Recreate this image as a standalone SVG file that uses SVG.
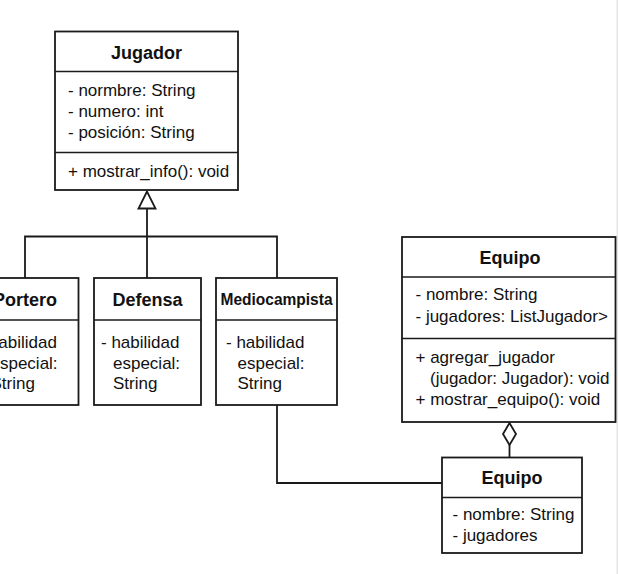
<svg xmlns="http://www.w3.org/2000/svg" width="618" height="574" viewBox="0 0 618 574">
<style>
.box{fill:#ffffff;stroke:#1a1a1a;stroke-width:1.8}
.div{stroke:#1a1a1a;stroke-width:1.6;fill:none}
.edge{stroke:#1a1a1a;stroke-width:1.8;fill:none}
.t{font-family:"Liberation Sans",Arial,Helvetica,sans-serif;font-size:17px;fill:#111}
.h{font-family:"Liberation Sans",Arial,Helvetica,sans-serif;font-size:18px;font-weight:bold;fill:#111;text-anchor:middle}
</style>
<rect x="0" y="0" width="618" height="574" fill="#ffffff"/>
<rect x="616.5" y="0" width="1.5" height="574" fill="#e4e4e4"/>
<g id="connectors">
<polyline class="edge" points="25,278 25,236.5 277,236.5 277,278"/>
<line class="edge" x1="147" y1="208" x2="147" y2="278"/>
<polygon class="edge" fill="#ffffff" points="147,191.5 138.5,208.5 155.5,208.5"/>
<polyline class="edge" points="277,405 277,483 442,483"/>
<line class="edge" x1="509.5" y1="445" x2="509.5" y2="457.5"/>
<polygon class="edge" fill="#ffffff" points="509.5,423 516,434 509.5,445 503,434"/>
</g>
<g id="jugador">
<rect class="box" x="55" y="31.5" width="183" height="158.5"/>
<line class="div" x1="55" y1="71.5" x2="238" y2="71.5"/>
<line class="div" x1="55" y1="152.5" x2="238" y2="152.5"/>
<text class="h" x="146.5" y="59">Jugador</text>
<text class="t" x="68" y="96">- normbre: String</text>
<text class="t" x="68" y="117">- numero: int</text>
<text class="t" x="68" y="138">- posición: String</text>
<text class="t" x="68" y="177">+ mostrar_info(): void</text>
</g>
<g id="portero">
<rect class="box" x="-28.5" y="278" width="107" height="127"/>
<line class="div" x1="-28.5" y1="320" x2="78.5" y2="320"/>
<text class="h" x="25" y="306">Portero</text>
<text class="t" x="-21.5" y="348">- habilidad</text>
<text class="t" x="-9.5" y="369">especial:</text>
<text class="t" x="-9.5" y="389">String</text>
</g>
<g id="defensa">
<rect class="box" x="94" y="278" width="107" height="127"/>
<line class="div" x1="94" y1="320" x2="201" y2="320"/>
<text class="h" x="147.5" y="306">Defensa</text>
<text class="t" x="101" y="348">- habilidad</text>
<text class="t" x="113" y="369">especial:</text>
<text class="t" x="113" y="389">String</text>
</g>
<g id="mediocampista">
<rect class="box" x="216" y="278" width="121" height="127"/>
<line class="div" x1="216" y1="320" x2="337" y2="320"/>
<text class="h" x="276.5" y="304.5" textLength="112" lengthAdjust="spacingAndGlyphs" style="font-size:17px">Mediocampista</text>
<text class="t" x="226" y="348">- habilidad</text>
<text class="t" x="237.5" y="369">especial:</text>
<text class="t" x="237.5" y="389">String</text>
</g>
<g id="equipo">
<rect class="box" x="402" y="237" width="213.5" height="185"/>
<line class="div" x1="402" y1="277" x2="615.5" y2="277"/>
<line class="div" x1="402" y1="338.5" x2="615.5" y2="338.5"/>
<text class="h" x="510" y="264">Equipo</text>
<text class="t" x="415.5" y="300">- nombre: String</text>
<text class="t" x="415.5" y="322">- jugadores: ListJugador&gt;</text>
<text class="t" x="415.5" y="363">+ agregar_jugador</text>
<text class="t" x="430" y="384">(jugador: Jugador): void</text>
<text class="t" x="415.5" y="405">+ mostrar_equipo(): void</text>
</g>
<g id="equipo2">
<rect class="box" x="442" y="457.5" width="140" height="95.5"/>
<line class="div" x1="442" y1="497.5" x2="582" y2="497.5"/>
<text class="h" x="512" y="484">Equipo</text>
<text class="t" x="452.5" y="520">- nombre: String</text>
<text class="t" x="452.5" y="541">- jugadores</text>
</g>
</svg>
